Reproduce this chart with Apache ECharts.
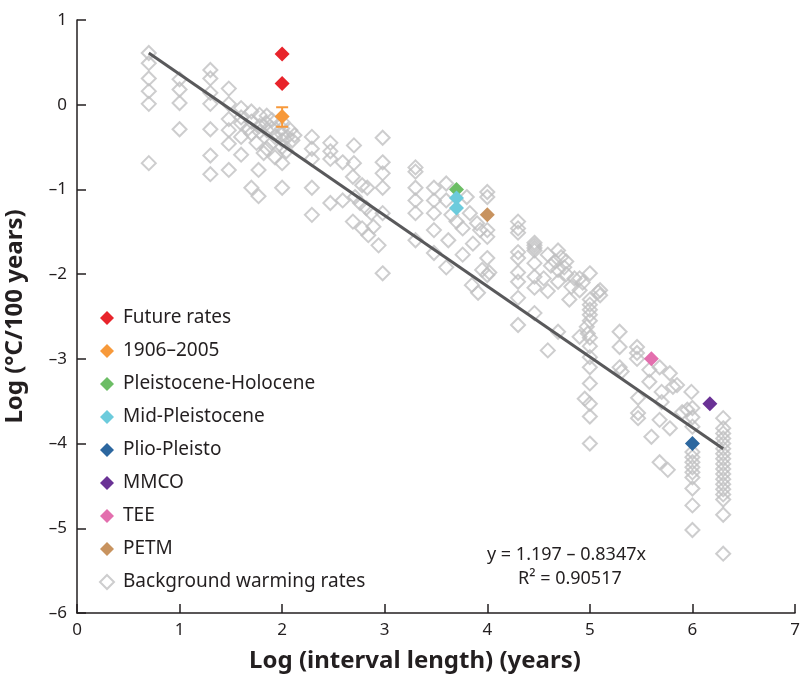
<!DOCTYPE html>
<html>
<head>
<meta charset="utf-8">
<script src="https://cdn.jsdelivr.net/npm/echarts@6/dist/echarts.min.js"></script>
<style>
  html, body { margin: 0; padding: 0; background: #fff; }
  #chart { width: 800px; height: 677px; }
</style>
</head>
<body>
<div id="chart"></div>
<script>
// colored event points [log interval, log rate]
const futureRates = [[2.0, 0.6], [2.0, 0.25]];
const modern = [[2.0, -0.14]];
const modernError = [[2.0, -0.26, -0.03]];
const pleistHolocene = [[3.7, -1.0]];
const midPleist = [[3.7, -1.1], [3.7, -1.22]];
const plioPleisto = [[6.0, -4.0]];
const mmco = [[6.17, -3.53]];
const tee = [[5.6, -3.0]];
const petm = [[4.0, -1.3]];

// regression line ends, y = 1.197 - 0.8347x
const fitLine = [[0.7, 0.61], [6.3, -4.06]];

const background = [
  [0.7, 0.61], [0.7, 0.49], [0.7, 0.31], [0.7, 0.16], [0.7, 0.01], [0.7, -0.69],
  [1.0, 0.30], [1.0, 0.18], [1.0, 0.02], [1.0, -0.29],
  [1.3, 0.41], [1.3, 0.31], [1.3, 0.14], [1.3, 0.01], [1.3, -0.29], [1.3, -0.6], [1.3, -0.82],
  [1.48, 0.19], [1.48, 0.01], [1.48, -0.17], [1.48, -0.3], [1.48, -0.46], [1.48, -0.77],
  [1.6, -0.04], [1.6, -0.15], [1.6, -0.22], [1.6, -0.38], [1.6, -0.59],
  [1.7, -0.08], [1.7, -0.2], [1.7, -0.34], [1.7, -0.98], [1.67, -0.28],
  [1.78, -0.12], [1.78, -0.25], [1.78, -0.32], [1.77, -0.77], [1.77, -1.08], [1.75, -0.45],
  [1.85, -0.13], [1.85, -0.22], [1.85, -0.3], [1.85, -0.52], [1.82, -0.57],
  [1.9, -0.18], [1.9, -0.28], [1.93, -0.38], [1.93, -0.62], [1.9, -0.45],
  [2.0, -0.2], [2.0, -0.28], [2.0, -0.35], [2.0, -0.42], [2.0, -0.5], [2.0, -0.69], [2.0, -0.98],
  [2.05, -0.38], [2.1, -0.42], [2.08, -0.3], [2.04, -0.55], [2.12, -0.36],
  [2.29, -0.38], [2.29, -0.52], [2.29, -0.64], [2.29, -0.98], [2.29, -1.3],
  [2.47, -0.45], [2.47, -0.55], [2.47, -0.64], [2.47, -1.16],
  [2.59, -0.68], [2.59, -1.13], [2.7, -0.48], [2.7, -0.69], [2.69, -0.85], [2.71, -1.09], [2.69, -1.38],
  [2.78, -0.95], [2.83, -0.98], [2.76, -1.16], [2.87, -1.28], [2.78, -1.46], [2.84, -1.54],
  [2.89, -1.44], [2.94, -1.66], [2.82, -1.22],
  [2.98, -0.39], [2.98, -0.68], [2.98, -0.81], [2.98, -0.98], [2.98, -1.28], [2.98, -1.99],
  [3.3, -0.74], [3.3, -0.79], [3.3, -0.98], [3.3, -1.13], [3.3, -1.28], [3.3, -1.6],
  [3.48, -0.98], [3.48, -1.13], [3.48, -1.28], [3.48, -1.48], [3.48, -1.75],
  [3.6, -0.93], [3.6, -1.13], [3.62, -1.6], [3.6, -1.92], [3.65, -1.3],
  [3.7, -1.38], [3.76, -1.46], [3.8, -1.09], [3.83, -1.28], [3.86, -1.64], [3.76, -1.77],
  [3.85, -2.13], [3.91, -2.22], [3.9, -1.4], [3.93, -1.48],
  [4.0, -1.03], [4.0, -1.09], [4.0, -1.48], [4.0, -1.56], [4.0, -1.81], [3.95, -1.95], [4.0, -2.01], [4.02, -1.98],
  [4.3, -1.38], [4.3, -1.46], [4.3, -1.51], [4.3, -1.74], [4.3, -1.81], [4.3, -1.98], [4.3, -2.09], [4.3, -2.28], [4.3, -2.6],
  [4.46, -1.63], [4.46, -1.66], [4.46, -1.69], [4.46, -1.72], [4.46, -1.87], [4.46, -2.03], [4.46, -2.16], [4.46, -2.46],
  [4.59, -1.77], [4.59, -2.2], [4.59, -2.9], [4.62, -1.9], [4.55, -2.05],
  [4.69, -1.72], [4.69, -1.95], [4.69, -2.09], [4.69, -2.68], [4.72, -1.8], [4.66, -1.85],
  [4.77, -1.85], [4.77, -2.0], [4.82, -2.15], [4.8, -2.3], [4.75, -1.92], [4.85, -2.05],
  [4.9, -2.05], [4.9, -2.19], [4.9, -2.74], [4.93, -2.1],
  [5.0, -1.99], [5.0, -2.3], [5.0, -2.36], [5.0, -2.42], [5.0, -2.48], [5.0, -2.55], [4.97, -2.62],
  [5.0, -2.75], [5.0, -2.85], [5.0, -2.98], [5.0, -3.1], [5.0, -3.29], [4.95, -3.47], [5.0, -3.53],
  [5.0, -3.68], [5.0, -4.0], [4.98, -2.7],
  [5.1, -2.19], [5.1, -2.25], [5.08, -2.21],
  [5.29, -2.68], [5.29, -2.86], [5.29, -3.1], [5.31, -3.15],
  [5.46, -2.86], [5.46, -2.93], [5.46, -3.0], [5.47, -3.46], [5.47, -3.64], [5.47, -3.7],
  [5.58, -3.13], [5.58, -3.27], [5.6, -3.92],
  [5.68, -3.1], [5.7, -3.39], [5.7, -3.51], [5.68, -3.72], [5.68, -4.22], [5.78, -3.17],
  [5.78, -3.82], [5.76, -4.31], [5.85, -3.31], [5.81, -3.33],
  [5.9, -3.63], [5.95, -3.6], [5.99, -3.39], [6.0, -3.58], [6.0, -3.69], [6.0, -3.8],
  [6.0, -4.1], [6.0, -4.16], [6.0, -4.22], [6.0, -4.28], [6.0, -4.34], [6.0, -4.4],
  [6.0, -4.53], [6.0, -4.73], [6.0, -5.02],
  [6.3, -3.7], [6.3, -3.82], [6.3, -3.88], [6.3, -3.94], [6.3, -4.0], [6.3, -4.06], [6.3, -4.12],
  [6.3, -4.18], [6.3, -4.24], [6.3, -4.3], [6.3, -4.36], [6.3, -4.42], [6.3, -4.48], [6.3, -4.54],
  [6.3, -4.6], [6.3, -4.66], [6.3, -4.84], [6.3, -5.3]
];

const legendNames = ['Future rates', '1906–2005', 'Pleistocene-Holocene', 'Mid-Pleistocene',
  'Plio-Pleisto', 'MMCO', 'TEE', 'PETM', 'Background warming rates'];

const FONT = 'Noto Sans';
const INK = '#231f20';

function eventSeries(name, data, color) {
  return {
    name: name,
    type: 'scatter',
    symbol: 'diamond',
    symbolSize: 15,
    z: 5,
    itemStyle: { color: color, opacity: 1 },
    data: data
  };
}

const chart = echarts.init(document.getElementById('chart'));
chart.setOption({
  animation: false,
  textStyle: { fontFamily: FONT },
  grid: { left: 77, right: 5, top: 20, bottom: 64, outerBoundsMode: 'none', containLabel: false },
  legend: {
    data: legendNames,
    orient: 'vertical',
    left: 99,
    top: 308,
    padding: 0,
    itemWidth: 14,
    itemHeight: 14,
    itemGap: 13,
    textStyle: { fontSize: 19, color: INK, fontFamily: FONT, lineHeight: 20, padding: [0, 0, 0, 4] }
  },
  xAxis: {
    type: 'value', min: 0, max: 7, interval: 1,
    name: 'Log (interval length) (years)',
    nameLocation: 'middle',
    nameGap: 36,
    nameTextStyle: { fontSize: 24, fontWeight: 'bold', color: INK, padding: [0, 42, 0, 0] },
    axisLine: { onZero: false, lineStyle: { color: INK, width: 1.5 } },
    axisTick: { inside: true, length: 9, lineStyle: { color: INK, width: 1.5 } },
    axisLabel: { fontSize: 17, color: INK, margin: 9 },
    splitLine: { show: false }
  },
  yAxis: {
    type: 'value', min: -6, max: 1, interval: 1,
    name: 'Log (°C/100 years)',
    nameLocation: 'middle',
    nameGap: 50,
    nameTextStyle: { fontSize: 24, fontWeight: 'bold', color: INK },
    axisLine: { show: true, onZero: false, lineStyle: { color: INK, width: 1.5 } },
    axisTick: { show: true, inside: true, length: 9, lineStyle: { color: INK, width: 1.5 } },
    axisLabel: {
      fontSize: 17, color: INK, margin: 10,
      formatter: v => (v < 0 ? '–' + Math.abs(v) : String(v))
    },
    splitLine: { show: false }
  },
  graphic: [
    { type: 'text', left: 487, top: 546,
      style: { text: 'y = 1.197 – 0.8347x', fontSize: 18, fill: INK, fontFamily: FONT } },
    { type: 'text', left: 518, top: 570,
      style: { text: 'R² = 0.90517', fontSize: 18, fill: INK, fontFamily: FONT } }
  ],
  series: [
    {
      name: 'Background warming rates',
      type: 'scatter',
      symbol: 'diamond',
      symbolSize: 14,
      z: 2,
      itemStyle: { color: 'rgba(255,255,255,0)', borderColor: '#c0c0c2', borderWidth: 2 },
      data: background
    },
    {
      name: 'fit',
      type: 'line',
      z: 3,
      symbol: 'none',
      lineStyle: { color: '#59595b', width: 3 },
      data: fitLine
    },
    {
      name: 'error',
      type: 'custom',
      z: 4,
      renderItem: function (params, api) {
        const lo = api.coord([api.value(0), api.value(1)]);
        const hi = api.coord([api.value(0), api.value(2)]);
        const st = { stroke: '#f7993a', lineWidth: 2 };
        return {
          type: 'group',
          children: [
            { type: 'line', shape: { x1: lo[0], y1: lo[1], x2: hi[0], y2: hi[1] }, style: st },
            { type: 'line', shape: { x1: lo[0] - 6, y1: lo[1], x2: lo[0] + 6, y2: lo[1] }, style: st },
            { type: 'line', shape: { x1: hi[0] - 6, y1: hi[1], x2: hi[0] + 6, y2: hi[1] }, style: st }
          ]
        };
      },
      encode: { x: 0, y: [1, 2] },
      data: modernError
    },
    eventSeries('Future rates', futureRates, '#e8242b'),
    eventSeries('1906–2005', modern, '#f7993a'),
    eventSeries('Pleistocene-Holocene', pleistHolocene, '#6cbd65'),
    eventSeries('Mid-Pleistocene', midPleist, '#6ccbdc'),
    eventSeries('Plio-Pleisto', plioPleisto, '#2c679f'),
    eventSeries('MMCO', mmco, '#6a3295'),
    eventSeries('TEE', tee, '#e36fae'),
    eventSeries('PETM', petm, '#c8935f')
  ]
});
</script>
</body>
</html>
